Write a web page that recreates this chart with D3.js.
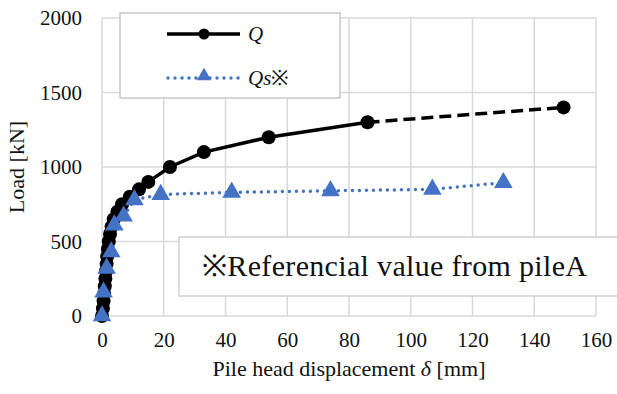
<!DOCTYPE html>
<html>
<head>
<meta charset="utf-8">
<script src="https://cdnjs.cloudflare.com/ajax/libs/d3/7.8.5/d3.min.js"></script>
<style>
  body { margin: 0; background: #fff; }
  text { font-family: "Liberation Serif", "Times New Roman", serif; fill: #111; }
</style>
</head>
<body>
<div id="chart"></div>
<script>
// measured load test, Q (black) and reference Qs from pile A (blue)
var qDisp = [0, 0.3, 0.5, 0.7, 0.9, 1.1, 1.3, 1.5, 1.7, 1.9, 2.2, 2.6, 3.1, 3.8, 5, 6.5, 9, 12, 15, 22, 33, 54, 86, 149.5];
var qLoad = [0, 50, 100, 150, 200, 250, 300, 350, 400, 450, 500, 550, 600, 650, 700, 750, 800, 850, 900, 1000, 1100, 1200, 1300, 1400];
var qsDisp = [0, 0.5, 1.5, 3, 4, 7, 10.5, 19, 42, 74, 107, 130];
var qsLoad = [0, 160, 320, 430, 610, 670, 780, 815, 830, 840, 850, 895];
var xTicks = [0, 20, 40, 60, 80, 100, 120, 140, 160];
var yTicks = [0, 500, 1000, 1500, 2000];

var width = 617, height = 394;
var pLeft = 102, pRight = 596, pTop = 18, pBottom = 316;
var blue = "#4472c4";

var svg = d3.select("#chart").append("svg")
  .attr("width", width)
  .attr("height", height)

var x = d3.scaleLinear().domain([0, 160]).range([pLeft, pRight]);
var y = d3.scaleLinear().domain([0, 2000]).range([pBottom, pTop]);

// grid
svg.append("g").selectAll("line")
  .data(xTicks).enter().append("line")
    .attr("x1", d => x(d)).attr("x2", d => x(d))
    .attr("y1", pTop).attr("y2", pBottom)
    .attr("stroke", "#d9d9d9").attr("stroke-width", 1.5)
svg.append("g").selectAll("line")
  .data(yTicks).enter().append("line")
    .attr("x1", pLeft).attr("x2", pRight)
    .attr("y1", d => y(d)).attr("y2", d => y(d))
    .attr("stroke", "#d9d9d9").attr("stroke-width", 1.5)

// axes (labels only, Excel style)
var xAxis = svg.append("g")
  .attr("transform", "translate(0," + pBottom + ")")
  .call(d3.axisBottom(x).tickValues(xTicks).tickFormat(d3.format("d")).tickSize(0).tickPadding(16))
xAxis.select(".domain").remove()
xAxis.selectAll("text").style("font-size", "21px").style("font-family", "Liberation Serif")

var yAxis = svg.append("g")
  .attr("transform", "translate(" + pLeft + ",0)")
  .call(d3.axisLeft(y).tickValues(yTicks).tickFormat(d3.format("d")).tickSize(0).tickPadding(20))
yAxis.select(".domain").remove()
yAxis.selectAll("text").style("font-size", "21px").style("font-family", "Liberation Serif")

svg.append("text")
  .attr("x", 349).attr("y", 376)
  .attr("text-anchor", "middle")
  .style("font-size", "22px")
  .html("Pile head displacement <tspan font-style='italic'>δ</tspan> [mm]")

svg.append("text")
  .attr("transform", "translate(24," + 167 + ")rotate(-90)")
  .attr("text-anchor", "middle")
  .style("font-size", "22px")
  .text("Load [kN]")

// annotation box
svg.append("rect")
  .attr("x", 179).attr("y", 237)
  .attr("width", 440).attr("height", 59)
  .attr("fill", "#fff").attr("stroke", "#d0d0d0").attr("stroke-width", 1.5)
svg.append("text")
  .attr("x", 202).attr("y", 276)
  .attr("textLength", 385)
  .style("font-size", "30px")
  .text("※Referencial value from pileA")

// Qs series
var qsData = qsDisp.map((d, i) => [d, qsLoad[i]]);
var line = d3.line().x(d => x(d[0])).y(d => y(d[1]));
svg.append("path")
  .attr("d", line(qsData))
  .attr("fill", "none").attr("stroke", blue)
  .attr("stroke-width", 3.5)
  .attr("stroke-dasharray", "0 7")
  .attr("stroke-linecap", "round")

// Q series, last segment dashed
var qData = qDisp.map((d, i) => [d, qLoad[i]]);
svg.append("path")
  .attr("d", line(qData.slice(0, qData.length - 1)))
  .attr("fill", "none").attr("stroke", "#000").attr("stroke-width", 3.5)
svg.append("path")
  .attr("d", line(qData.slice(qData.length - 2)))
  .attr("fill", "none").attr("stroke", "#000").attr("stroke-width", 3.5)
  .attr("stroke-dasharray", "12 6")

svg.append("g").selectAll("circle")
  .data(qData).enter().append("circle")
    .attr("cx", d => x(d[0])).attr("cy", d => y(d[1]))
    .attr("r", 7).attr("fill", "#000")

var tri = d3.symbol().type(d3.symbolTriangle).size(150);
svg.append("g").selectAll("path")
  .data(qsData).enter().append("path")
    .attr("d", tri)
    .attr("transform", d => "translate(" + x(d[0]) + "," + y(d[1]) + ")")
    .attr("fill", blue)

// legend
var lg = svg.append("g")
lg.append("rect")
  .attr("x", 120).attr("y", 13)
  .attr("width", 220).attr("height", 85)
  .attr("fill", "#fff").attr("stroke", "#c8c8c8").attr("stroke-width", 1.5)
lg.append("line")
  .attr("x1", 167).attr("x2", 240).attr("y1", 34).attr("y2", 34)
  .attr("stroke", "#000").attr("stroke-width", 3.5)
lg.append("circle").attr("cx", 204).attr("cy", 34).attr("r", 5.5).attr("fill", "#000")
lg.append("text").attr("x", 248).attr("y", 41)
  .style("font-size", "21px").style("font-style", "italic").text("Q")
lg.append("line")
  .attr("x1", 168).attr("x2", 240).attr("y1", 78).attr("y2", 78)
  .attr("stroke", blue).attr("stroke-width", 3.5)
  .attr("stroke-dasharray", "0 7").attr("stroke-linecap", "round")
lg.append("path")
  .attr("d", d3.symbol().type(d3.symbolTriangle).size(90))
  .attr("transform", "translate(204,76)")
  .attr("fill", blue)
lg.append("text").attr("x", 248).attr("y", 85)
  .style("font-size", "21px")
  .html("<tspan font-style='italic'>Qs</tspan>※")
</script>
</body>
</html>
